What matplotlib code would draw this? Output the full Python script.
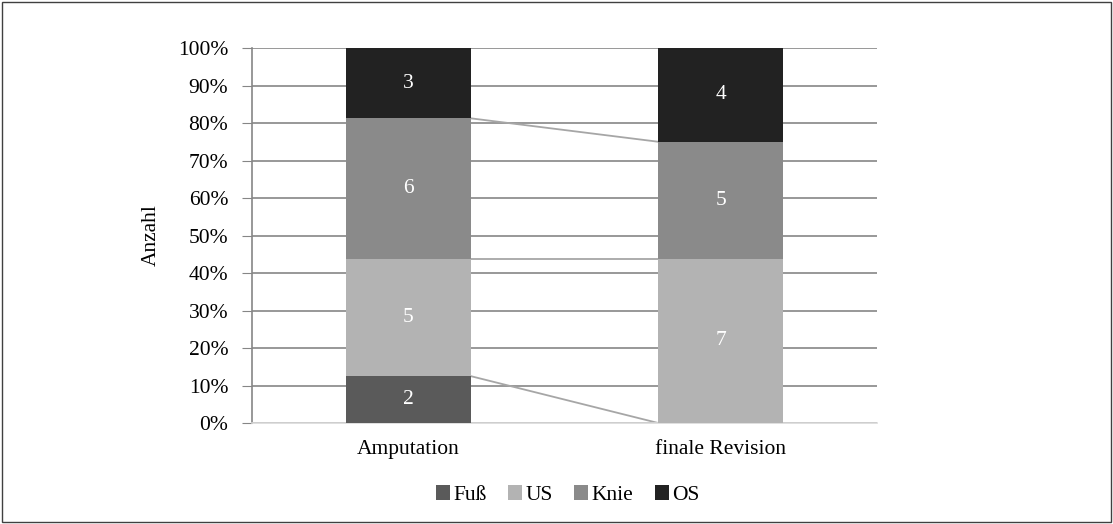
import matplotlib.pyplot as plt
import numpy as np
from matplotlib.patches import Rectangle

# Counts per amputation level, shown as 100% stacked bars
categories = ["Amputation", "finale Revision"]
levels = ["Fuß", "US", "Knie", "OS"]
fuss = [2, 0]
us = [5, 7]
knie = [6, 5]
os_ = [3, 4]
colors = ["#5a5a5a", "#b3b3b3", "#8a8a8a", "#222222"]

plt.rcParams['font.family'] = ['Liberation Serif', 'DejaVu Serif']
fs = 15.5

counts = np.array([fuss, us, knie, os_], dtype=float)
shares = counts / counts.sum(axis=0) * 100

fig = plt.figure(figsize=(11.13, 5.24), dpi=100)
ax = fig.add_axes([0.2264, 0.1927, 0.5616, 0.7157])

x = np.arange(len(categories))
width = 0.4
bottom = np.zeros(len(categories))
for i, name in enumerate(levels):
    ax.bar(x, shares[i], width, bottom=bottom, color=colors[i], label=name, zorder=3)
    for j in range(len(categories)):
        if counts[i, j] > 0:
            ax.text(x[j], bottom[j] + shares[i, j] / 2, f"{int(counts[i, j])}",
                    ha="center", va="center", color="white", fontsize=fs, zorder=4)
    top = bottom + shares[i]
    # series lines between the bars
    if i < len(levels) - 1:
        ax.plot([x[0] + width / 2, x[1] - width / 2], [top[0], top[1]],
                color="#a6a6a6", lw=1.3, zorder=2)
    bottom = top

ax.set_xlim(-0.5, 1.5)
ax.set_ylim(0, 100)
ax.set_yticks(np.arange(0, 101, 10))
ax.set_yticklabels([f"{v}%" for v in range(0, 101, 10)], fontsize=fs)
ax.set_xticks(x)
ax.set_xticklabels(categories, fontsize=fs)
ax.tick_params(axis="x", length=0, pad=12)
ax.tick_params(axis="y", length=7, color="#868686", pad=10)
ax.yaxis.grid(True, color="#868686", lw=1.2, zorder=1)
ax.set_axisbelow(True)
for s in ["top", "right"]:
    ax.spines[s].set_visible(False)
ax.spines["left"].set_color("#868686")
ax.spines["left"].set_linewidth(1.2)
ax.spines["bottom"].set_color("#d9d9d9")
ax.spines["bottom"].set_linewidth(1.2)
ax.set_ylabel("Anzahl", fontsize=fs)
ax.yaxis.set_label_coords(-0.146, 0.5)

ax.legend(loc="center", bbox_to_anchor=(0.505, -0.192), ncol=4, frameon=False,
          fontsize=fs, handlelength=0.65, handleheight=0.65, handletextpad=0.15,
          columnspacing=1.0)

# thin frame round the whole figure
fig.patches.append(Rectangle((0.0015, 0.003), 0.997, 0.994, transform=fig.transFigure,
                             fill=False, edgecolor="#404040", lw=1))

fig.savefig("out.png", dpi=100)
